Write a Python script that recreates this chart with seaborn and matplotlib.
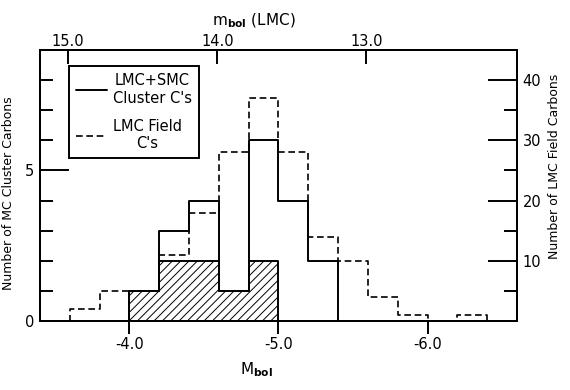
import matplotlib
matplotlib.use("Agg")
import numpy as np
import pandas as pd
import matplotlib.pyplot as plt
import seaborn as sns
from matplotlib.lines import Line2D

# ---- data ----
bin_edges = [-3.4, -3.6, -3.8, -4.0, -4.2, -4.4, -4.6, -4.8, -5.0,
             -5.2, -5.4, -5.6, -5.8, -6.0, -6.2, -6.4, -6.6]
cluster_counts = [0, 0, 0, 1, 3, 4, 1, 6, 4, 2, 0, 0, 0, 0, 0, 0]
cluster_hatched = [0, 0, 0, 1, 2, 2, 1, 2, 0, 0, 0, 0, 0, 0, 0, 0]
field_counts = [0, 2, 5, 5, 11, 18, 28, 37, 28, 14, 10, 4, 1, 0, 1, 0]

x_ticks = [-4.0, -5.0, -6.0]
x_tick_labels = ["-4.0", "-5.0", "-6.0"]
top_ticks = [15.0, 14.0, 13.0]
top_tick_labels = ["15.0", "14.0", "13.0"]
left_ticks = [0, 5]
left_tick_labels = ["0", "5"]
left_minor = [1, 2, 3, 4, 6, 7, 8]
right_ticks = [10, 20, 30, 40]
right_tick_labels = ["10", "20", "30", "40"]
right_minor = [5, 15, 25, 35]
m_offset = 18.59

legend_labels = ["LMC+SMC\nCluster C's", "LMC Field\nC's"]

edges = np.array(bin_edges)
centers = (edges[:-1] + edges[1:]) / 2
bins_sorted = sorted(bin_edges)
df = pd.DataFrame({"M": centers, "cluster": cluster_counts,
                   "hatched": cluster_hatched, "field": field_counts})

sns.set_style("ticks")
plt.rcParams["font.family"] = ["DejaVu Sans"]
plt.rcParams["mathtext.fontset"] = "dejavusans"
plt.rcParams["axes.unicode_minus"] = False
plt.rcParams["hatch.linewidth"] = 0.7
plt.rcParams["text.color"] = "black"
plt.rcParams["axes.labelcolor"] = "black"
plt.rcParams["xtick.color"] = "black"
plt.rcParams["ytick.color"] = "black"

fig, ax = plt.subplots(figsize=(5.7, 3.9), dpi=100)
fig.subplots_adjust(left=0.070, right=0.907, bottom=0.177, top=0.872)

lw = 1.4
sns.histplot(data=df, x="M", weights="hatched", bins=bins_sorted, element="step",
             fill=True, color="black", facecolor="none", edgecolor="black",
             hatch="////", linewidth=lw, ax=ax)
sns.histplot(data=df, x="M", weights="cluster", bins=bins_sorted, element="step",
             fill=False, color="black", linewidth=lw, ax=ax)

ax2 = ax.twinx()
sns.histplot(data=df, x="M", weights="field", bins=bins_sorted, element="step",
             fill=False, color="black", linewidth=1.2, linestyle=(0, (4, 2.2)), ax=ax2)

ax.set_xlim(-3.4, -6.6)
ax.set_ylim(0, 9)
ax2.set_ylim(0, 45)

# ticks
ax.set_xticks(x_ticks)
ax.set_xticklabels(x_tick_labels)
ax.set_yticks(left_ticks)
ax.set_yticklabels(left_tick_labels)
ax.set_yticks(left_minor, minor=True)
ax2.set_yticks(right_ticks)
ax2.set_yticklabels(right_tick_labels)
ax2.set_yticks(right_minor, minor=True)

ax.tick_params(axis="x", which="major", direction="out", length=9.5, width=lw,
               labelsize=10.5, pad=2, colors="black")
ax.tick_params(axis="y", which="major", direction="in", length=21, width=lw,
               labelsize=10.5, pad=4, colors="black")
ax.tick_params(axis="y", which="minor", direction="in", length=9.5, width=lw)
ax2.tick_params(axis="y", which="major", direction="in", length=21, width=lw,
                labelsize=10.5, pad=4, colors="black")
ax2.tick_params(axis="y", which="minor", direction="in", length=9.5, width=lw)

secax = ax.secondary_xaxis("top", functions=(lambda M: M + m_offset,
                                            lambda m: m - m_offset))
secax.set_xticks(top_ticks)
secax.set_xticklabels(top_tick_labels)
secax.tick_params(direction="in", length=10, width=lw, labelsize=10.5, pad=1,
                  colors="black")

for a in (ax, ax2):
    for s in a.spines.values():
        s.set_visible(True)
        s.set_linewidth(lw)
        s.set_color("black")
for s in secax.spines.values():
    s.set_linewidth(lw)

# labels
ax.set_xlabel(r"M$_{\mathbf{bol}}$", fontsize=11)
ax.xaxis.set_label_coords(0.455, -0.145)
ax.set_ylabel("Number of MC Cluster Carbons", fontsize=9)
ax.yaxis.set_label_coords(-0.053, 0.472)
ax2.set_ylabel("Number of LMC Field Carbons", fontsize=9)
ax2.yaxis.set_label_coords(1.065, 0.57)
secax.set_xlabel(r"m$_{\mathbf{bol}}$ (LMC)", fontsize=11)
secax.xaxis.set_label_coords(0.449, 1.09, transform=ax.transAxes)

handles = [Line2D([], [], color="black", linewidth=lw),
           Line2D([], [], color="black", linewidth=1.2, linestyle=(0, (4, 2.2)))]
leg = ax2.legend(handles, legend_labels, loc="upper left",
                 bbox_to_anchor=(0.061, 0.941), borderaxespad=0,
                 frameon=True, fancybox=False, edgecolor="black", framealpha=1,
                 fontsize=10.5, handlelength=2.1, handletextpad=0.4,
                 labelspacing=0.9, borderpad=0.5)
leg.get_frame().set_linewidth(lw)
for t in leg.get_texts():
    t.set_multialignment("center")
    t.set_color("black")

fig.savefig("out.png", dpi=100)
